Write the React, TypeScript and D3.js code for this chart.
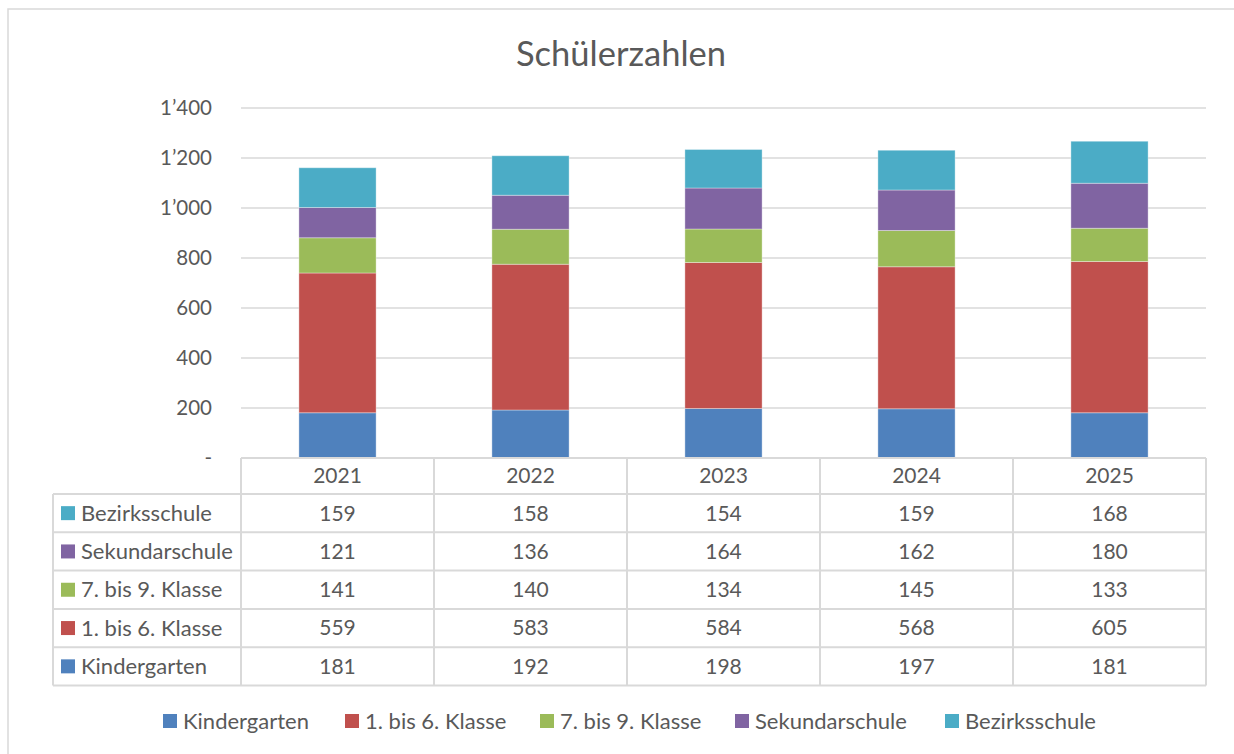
import React from "react";
import * as d3 from "d3";

const years = ["2021", "2022", "2023", "2024", "2025"];
const seriesNames = ["Kindergarten", "1. bis 6. Klasse", "7. bis 9. Klasse", "Sekundarschule", "Bezirksschule"];
const kindergarten = [181, 192, 198, 197, 181];
const klasse1bis6 = [559, 583, 584, 568, 605];
const klasse7bis9 = [141, 140, 134, 145, 133];
const sekundarschule = [121, 136, 164, 162, 180];
const bezirksschule = [159, 158, 154, 159, 168];
const colors = ["#4F81BD", "#C0504D", "#9BBB59", "#8064A2", "#4BACC6"];
const yTicks = [0, 200, 400, 600, 800, 1000, 1200, 1400];
const title = "Schülerzahlen";

const seriesValues = [kindergarten, klasse1bis6, klasse7bis9, sekundarschule, bezirksschule];

const FONT = "Lato, 'Open Sans', sans-serif";
const TEXT = "#595959";
const GRID = "#d9d9d9";

const locale = d3.formatLocale({ decimal: ".", thousands: "\u2019", grouping: [3], currency: ["", ""] });
const fmt = locale.format(",d");

export default function App() {
  const W = 1234, H = 754;
  const plotL = 241, plotR = 1206, plotT = 108, plotB = 458;
  const x = d3.scaleBand<string>().domain(years).range([plotL, plotR]).paddingInner(0).paddingOuter(0);
  const y = d3.scaleLinear().domain([0, 1400]).range([plotB, plotT]);
  const barW = x.bandwidth() * 0.4;

  const rows = years.map((yr, i) => {
    const o: any = { year: yr };
    seriesNames.forEach((s, j) => (o[s] = seriesValues[j][i]));
    return o;
  });
  const stacked = d3.stack<any>().keys(seriesNames)(rows);

  const tableL = 53;
  const headerTop = plotB;
  const rowTop = 494;
  const rowH = (685.5 - 494) / 5;
  const tableB = rowTop + rowH * 5;
  const tableOrder = [4, 3, 2, 1, 0];

  const legendX = [163, 345, 540, 735, 945];
  const legendY = 721;

  return (
    <svg width={W} height={H} style={{ position: "absolute", left: 0, top: 0 }} fontFamily={FONT}>
      <rect x={0} y={0} width={W} height={H} fill="#fff" />
      <rect x={8} y={9} width={W + 20} height={H + 20} fill="none" stroke={GRID} strokeWidth={1.5} />
      <text x={621} y={66} textAnchor="middle" fontSize={34.5} fill={TEXT}>{title}</text>

      {yTicks.map((t) => (
        <g key={t}>
          {t > 0 && <line x1={plotL} x2={plotR} y1={y(t)} y2={y(t)} stroke={GRID} strokeWidth={1.5} />}
          <text x={212} y={y(t)} dy="0.35em" textAnchor="end" fontSize={20.5} fill={TEXT}>
            {t === 0 ? "-" : fmt(t)}
          </text>
        </g>
      ))}

      {stacked.map((layer, j) => (
        <g key={layer.key} fill={colors[j]}>
          {layer.map((d, i) => (
            <rect
              key={i}
              x={(x(years[i]) as number) + (x.bandwidth() - barW) / 2}
              y={y(d[1])}
              width={barW}
              height={y(d[0]) - y(d[1])}
              stroke="#ffffff"
              strokeOpacity={0.35}
              strokeWidth={1}
            />
          ))}
        </g>
      ))}

      {/* data table */}
      <g stroke={GRID} strokeWidth={2} fill="none">
        <line x1={plotL} x2={plotR} y1={headerTop} y2={headerTop} />
        {d3.range(6).map((k) => (
          <line key={"h" + k} x1={tableL} x2={plotR} y1={rowTop + rowH * k} y2={rowTop + rowH * k} />
        ))}
        <line x1={tableL} x2={tableL} y1={rowTop} y2={tableB} />
        {years.map((yr) => (
          <line key={"v" + yr} x1={x(yr)} x2={x(yr)} y1={headerTop} y2={tableB} />
        ))}
        <line x1={plotR} x2={plotR} y1={headerTop} y2={tableB} />
      </g>
      {years.map((yr) => (
        <text key={"y" + yr} x={(x(yr) as number) + x.bandwidth() / 2} y={(headerTop + rowTop) / 2} dy="0.35em" textAnchor="middle" fontSize={21} fill={TEXT}>
          {yr}
        </text>
      ))}
      {tableOrder.map((j, r) => {
        const cy = rowTop + rowH * r + rowH / 2;
        return (
          <g key={"r" + j}>
            <rect x={61} y={cy - 7} width={14} height={14} fill={colors[j]} />
            <text x={81} y={cy} dy="0.35em" fontSize={22} fill={TEXT}>{seriesNames[j]}</text>
            {years.map((yr, i) => (
              <text key={yr} x={(x(yr) as number) + x.bandwidth() / 2} y={cy} dy="0.35em" textAnchor="middle" fontSize={21} fill={TEXT}>
                {seriesValues[j][i]}
              </text>
            ))}
          </g>
        );
      })}

      {/* legend */}
      {seriesNames.map((s, j) => (
        <g key={"l" + s}>
          <rect x={legendX[j]} y={legendY - 7} width={14} height={14} fill={colors[j]} />
          <text x={legendX[j] + 20} y={legendY} dy="0.35em" fontSize={22} fill={TEXT}>{s}</text>
        </g>
      ))}
    </svg>
  );
}
